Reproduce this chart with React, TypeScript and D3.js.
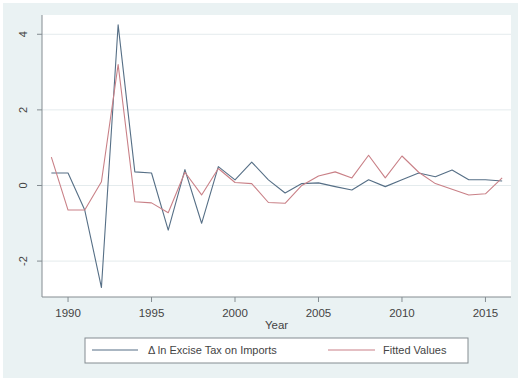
import { line, scaleLinear } from "d3";

const years = [
  1989, 1990, 1991, 1992, 1993, 1994, 1995, 1996, 1997, 1998, 1999, 2000, 2001, 2002,
  2003, 2004, 2005, 2006, 2007, 2008, 2009, 2010, 2011, 2012, 2013, 2014, 2015, 2016,
];

// Δ ln excise tax on imports
const actual = [
  0.33, 0.33, -0.65, -2.7, 4.25, 0.36, 0.33, -1.18, 0.42, -1.0, 0.5, 0.15, 0.62, 0.15,
  -0.2, 0.05, 0.07, -0.03, -0.12, 0.15, -0.03, 0.15, 0.33, 0.23, 0.41, 0.15, 0.15, 0.12,
];

const fitted = [
  0.75, -0.65, -0.65, 0.1, 3.2, -0.43, -0.46, -0.72, 0.35, -0.25, 0.45, 0.08, 0.05, -0.45,
  -0.47, 0.0, 0.25, 0.36, 0.2, 0.8, 0.2, 0.78, 0.35, 0.05, -0.1, -0.25, -0.22, 0.2,
];

const xTicks = [1990, 1995, 2000, 2005, 2010, 2015];
const yTicks = [-2, 0, 2, 4];

const seriesLabels = ["Δ ln Excise Tax on Imports", "Fitted Values"];
const seriesColors = ["#566f86", "#c98087"];

export default function App() {
  const width = 520;
  const height = 378;
  const plot = { left: 42, right: 511, top: 15, bottom: 297 };
  const font = "'Liberation Sans', Arial, sans-serif";
  const ink = "#444";

  const x = scaleLinear().domain([1988.44, 2016.53]).range([plot.left, plot.right]);
  const y = scaleLinear().domain([-2.95, 4.51]).range([plot.bottom, plot.top]);

  const path = (values: number[]) =>
    line<number>()
      .x((_, i) => x(years[i]))
      .y((v) => y(v))(values) ?? "";

  const legendY = 350;

  return (
    <div style={{ position: "absolute", left: 0, top: 0 }}>
      <svg width={width} height={height} style={{ display: "block", background: "#fff" }}>
        <rect x={3} y={3} width={width - 5} height={height - 3} fill="#eaf2f3" />
        <rect
          x={plot.left}
          y={plot.top}
          width={plot.right - plot.left}
          height={plot.bottom - plot.top}
          fill="#fff"
        />

        {yTicks.map((t) => (
          <line
            key={`g${t}`}
            x1={plot.left}
            x2={plot.right}
            y1={y(t)}
            y2={y(t)}
            stroke="#e4ebed"
            strokeWidth={1}
          />
        ))}

        {/* axes */}
        <line x1={plot.left} x2={plot.left} y1={plot.top} y2={plot.bottom} stroke="#848c91" />
        <line x1={plot.left} x2={plot.right} y1={plot.bottom} y2={plot.bottom} stroke="#848c91" />

        {yTicks.map((t) => (
          <g key={`y${t}`}>
            <line x1={plot.left - 5} x2={plot.left} y1={y(t)} y2={y(t)} stroke="#848c91" />
            <text
              transform={`translate(${plot.left - 15},${y(t)}) rotate(-90)`}
              textAnchor="middle"
              fontFamily={font}
              fontSize={11}
              fill={ink}
            >
              {t}
            </text>
          </g>
        ))}

        {xTicks.map((t) => (
          <g key={`x${t}`}>
            <line x1={x(t)} x2={x(t)} y1={plot.bottom} y2={plot.bottom + 5} stroke="#848c91" />
            <text
              x={x(t)}
              y={plot.bottom + 20}
              textAnchor="middle"
              fontFamily={font}
              fontSize={11.5}
              fill={ink}
            >
              {t}
            </text>
          </g>
        ))}

        <text
          x={(plot.left + plot.right) / 2}
          y={329}
          textAnchor="middle"
          fontFamily={font}
          fontSize={11.5}
          fill={ink}
        >
          Year
        </text>

        {[actual, fitted].map((values, i) => (
          <path
            key={seriesLabels[i]}
            d={path(values)}
            fill="none"
            stroke={seriesColors[i]}
            strokeWidth={1.1}
            strokeLinejoin="round"
          />
        ))}

        {/* legend */}
        <rect x={85} y={338} width={383} height={25} fill="#fff" stroke="#848c91" strokeWidth={1} />
        <line x1={92} x2={138} y1={legendY} y2={legendY} stroke={seriesColors[0]} strokeWidth={1.1} />
        <text x={148} y={legendY + 4} fontFamily={font} fontSize={11} fill={ink}>
          {seriesLabels[0]}
        </text>
        <line x1={328} x2={375} y1={legendY} y2={legendY} stroke={seriesColors[1]} strokeWidth={1.1} />
        <text x={383} y={legendY + 4} fontFamily={font} fontSize={11} fill={ink}>
          {seriesLabels[1]}
        </text>
      </svg>
    </div>
  );
}
